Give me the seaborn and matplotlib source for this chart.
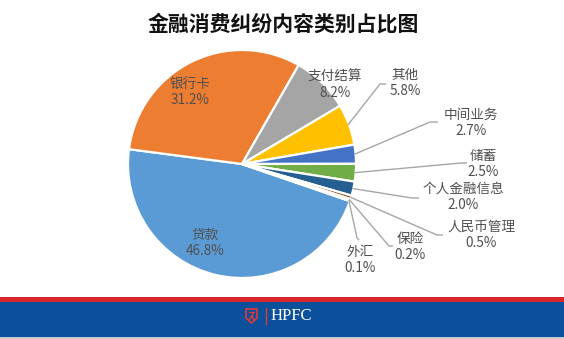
import numpy as np
import matplotlib
matplotlib.use("Agg")
import matplotlib.pyplot as plt
import seaborn as sns
from matplotlib.patches import Rectangle, Polygon

sns.set_theme(style="white")
plt.rcParams['font.family'] = ['Noto Sans CJK SC', 'DejaVu Sans']

# ---- data ----
categories = ["贷款", "银行卡", "支付结算", "其他", "中间业务", "储蓄",
              "个人金融信息", "人民币管理", "保险", "外汇"]
values = [46.8, 31.2, 8.2, 5.8, 2.7, 2.5, 2.0, 0.5, 0.2, 0.1]
pct_labels = ["46.8%", "31.2%", "8.2%", "5.8%", "2.7%", "2.5%",
              "2.0%", "0.5%", "0.2%", "0.1%"]
colors = ["#5B9BD5", "#ED7D31", "#A5A5A5", "#FFC000", "#4472C4", "#70AD47",
          "#255E91", "#9E480E", "#636363", "#997300"]
title = "金融消费纠纷内容类别占比图"

W, H = 564, 339
fig = plt.figure(figsize=(W / 100, H / 100), dpi=100)
ax = fig.add_axes([0, 0, 1, 1])

def py(y):  # pixel y (top-down) -> data y
    return H - y

cx, cy, R = 242, py(164), 114
palette = sns.color_palette(colors)
wedges, _ = ax.pie(values, colors=palette, startangle=-19, counterclock=False,
                   center=(cx, cy), radius=R,
                   wedgeprops=dict(edgecolor="white", linewidth=1.6))
ax.set_xlim(0, W)
ax.set_ylim(0, H)
ax.set_aspect("equal")
ax.axis("off")

txt_color = "#505050"
line_color = "#A6A6A6"
fs = 9.8

# label text centres (pixel coords) and leader line elbows
label_pos = {
    "贷款": (205, 243), "银行卡": (190, 92), "支付结算": (335, 85),
    "其他": (405, 83), "中间业务": (471, 123), "储蓄": (483, 164),
    "个人金融信息": (463, 197), "人民币管理": (481, 235),
    "保险": (410, 247), "外汇": (360, 260),
}
leaders = {
    "其他": [(380, 84), (386, 84)],
    "中间业务": [(430, 122), (438, 122)],
    "储蓄": [(461, 163), (467, 163)],
    "个人金融信息": [(412, 198), (419, 198)],
    "人民币管理": [(437, 235), (443, 235)],
    "保险": [(389, 246), (393, 246)],
    "外汇": [(357, 238), (359, 240)],
}

for w, name, pct in zip(wedges, categories, pct_labels):
    x, y = label_pos[name]
    ax.text(x, py(y), f"{name}\n{pct}", ha="center", va="center",
            fontsize=fs, color=txt_color, linespacing=1.22)
    if name in leaders:
        ang = np.deg2rad((w.theta1 + w.theta2) / 2)
        sx = cx + R * 0.99 * np.cos(ang)
        sy = cy + R * 0.99 * np.sin(ang)
        pts = [(sx, sy)] + [(px_, py(py_)) for px_, py_ in leaders[name]]
        xs, ys = zip(*pts)
        ax.plot(xs, ys, color=line_color, lw=1.0, solid_capstyle="butt")

ax.text(283, py(24), title, ha="center", va="center", fontsize=15,
        fontweight="bold", color="#111111")

# ---- footer ----
ax.add_patch(Rectangle((0, py(302)), W, 5, color="#D8262B", lw=0))
ax.add_patch(Rectangle((0, py(337)), W, 35, color="#0C4F9A", lw=0))
ax.add_patch(Rectangle((0, 0), W, 2, color="#C9CDD3", lw=0))
shield = [(246, 309), (257, 309), (257, 318), (251.5, 323), (246, 318)]
ax.add_patch(Polygon([(a, py(b)) for a, b in shield], closed=True,
                     fill=False, edgecolor="#E03A3A", lw=1.2))
ax.plot([249, 254], [py(312), py(312)], color="#E03A3A", lw=1.0)
ax.plot([251.5, 251.5], [py(312), py(317)], color="#E03A3A", lw=1.0)
ax.plot([249, 251.5, 254], [py(320), py(316), py(320)], color="#E03A3A", lw=1.0)
ax.plot([266, 266], [py(308), py(324)], color="#E03A3A", lw=1.0)
ax.text(271, py(316.5), "HPFC", ha="left", va="center", fontsize=12,
        color="white", family=["Liberation Serif"])

fig.savefig("out.png", dpi=100)
